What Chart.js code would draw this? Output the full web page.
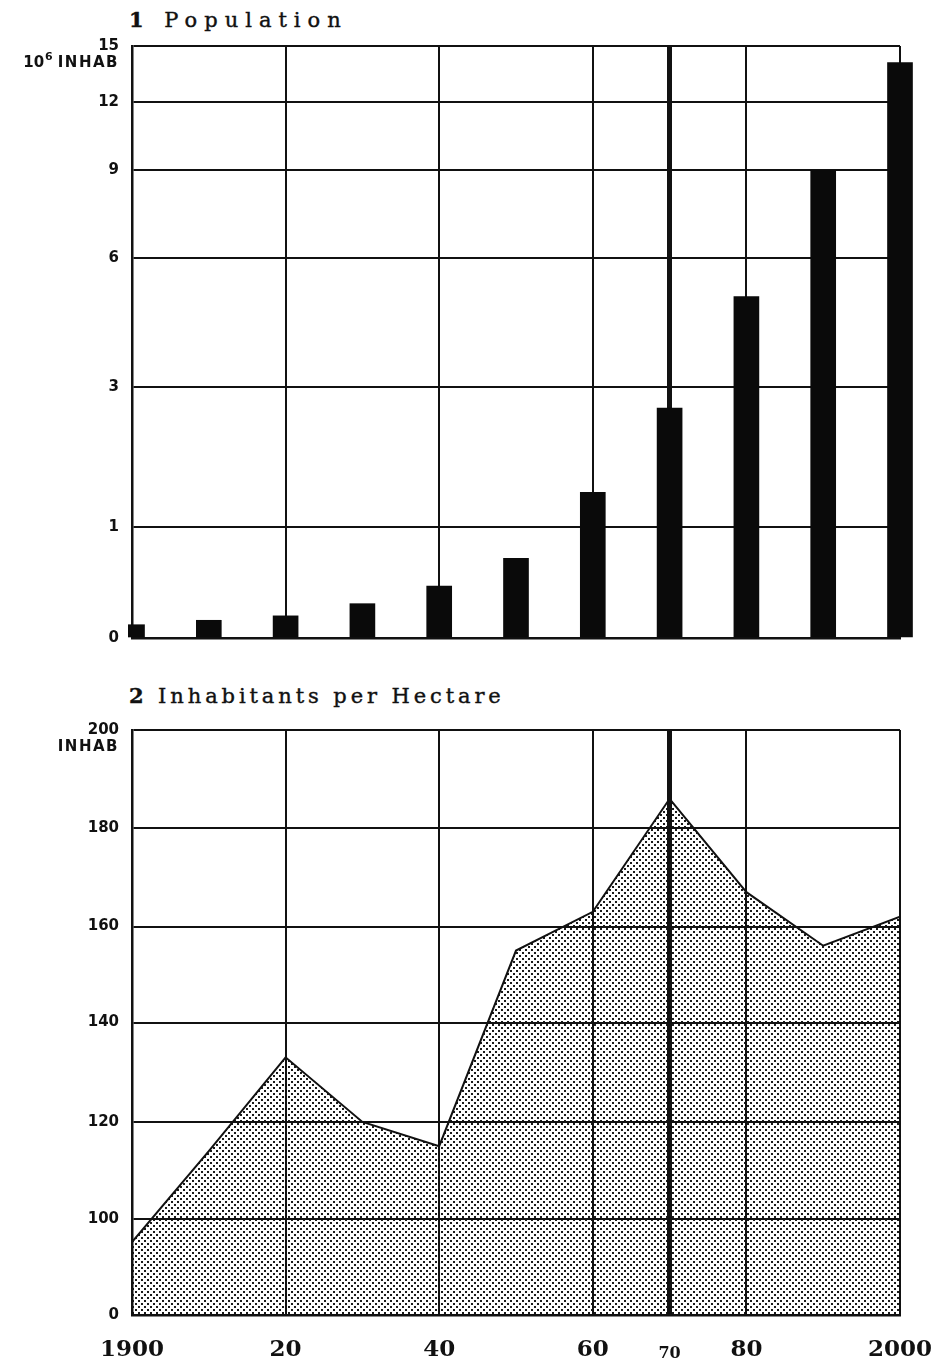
<!DOCTYPE html>
<html>
<head>
<meta charset="utf-8">
<title>Population and density</title>
<script src="https://cdn.jsdelivr.net/npm/chart.js@4.4.0/dist/chart.umd.min.js"></script>
<style>
  body { margin: 0; background: #fff; width: 942px; height: 1361px; position: relative; overflow: hidden; }
  .title { position: absolute; left: 129px; font-family: 'DejaVu Serif', serif; font-size: 21px; color: #111; white-space: nowrap; -webkit-text-stroke: 0.4px #111; }
  #t1 { top: 7px; letter-spacing: 7px; }
  #t2 { top: 683px; letter-spacing: 3.9px; }
  .box { position: absolute; left: 0; width: 942px; }
  #box1 { top: 0; height: 660px; }
  #box2 { top: 670px; height: 691px; }
</style>
</head>
<body>
<div class="title" id="t1"><b>1</b> Population</div>
<div class="title" id="t2"><b>2</b> Inhabitants per Hectare</div>
<div class="box" id="box1"><canvas id="popChart"></canvas></div>
<div class="box" id="box2"><canvas id="densChart"></canvas></div>
<script>
// population, millions of inhabitants, one bar per decade
var popYears = [1900, 1910, 1920, 1930, 1940, 1950, 1960, 1970, 1980, 1990, 2000];
var population = [0.12, 0.16, 0.2, 0.31, 0.47, 0.72, 1.5, 2.7, 5.1, 9.0, 14.1];
var popTicks = [0, 1, 3, 6, 9, 12, 15];

// inhabitants per hectare
var densYears = [1900, 1910, 1920, 1930, 1940, 1950, 1960, 1970, 1980, 1990, 2000];
var density = [76, 114, 133, 120, 115, 155, 163, 186, 167, 156, 162];
var densTicks = [0, 100, 120, 140, 160, 180, 200];

// vertical rules and year labels shared by both panels
var gridYears = [1900, 1920, 1940, 1960, 1970, 1980, 2000];
var yearLabels = ['1900', '20', '40', '60', '70', '80', '2000'];

// value axes are not linear: every tick sits at a fixed share of the axis height
var axisTicks = { yPop: popTicks, yDens: densTicks };
var axisStops = {
  yPop:  [0, 0.187, 0.424, 0.642, 0.79, 0.906, 1],
  yDens: [0, 0.164, 0.33, 0.5, 0.664, 0.832, 1]
};

class SteppedScale extends Chart.LinearScale {
  static id = 'stepped';

  buildTicks() {
    return axisTicks[this.id].map(function(v) { return { value: v }; });
  }

  getPixelForValue(value) {
    var t = axisTicks[this.id], f = axisStops[this.id];
    var d = 0;
    if (value <= t[0]) {
      d = f[0];
    } else {
      for (var i = 1; i < t.length; i++) {
        if (value <= t[i] || i === t.length - 1) {
          d = f[i - 1] + (value - t[i - 1]) / (t[i] - t[i - 1]) * (f[i] - f[i - 1]);
          break;
        }
      }
    }
    return this.getPixelForDecimal(d);
  }

  getValueForPixel(pixel) {
    var d = this.getDecimalForPixel(pixel);
    var t = axisTicks[this.id], f = axisStops[this.id];
    for (var i = 1; i < f.length; i++) {
      if (d <= f[i] || i === f.length - 1) {
        return t[i - 1] + (d - f[i - 1]) / (f[i] - f[i - 1]) * (t[i] - t[i - 1]);
      }
    }
  }
}
Chart.register(SteppedScale);

// unit caption under the top tick label
var unitLabel = {
  id: 'unitLabel',
  afterDraw: function(chart, args, opts) {
    var ctx = chart.ctx, area = chart.chartArea;
    var x = area.left - 13, y = area.top + 17;
    ctx.save();
    ctx.fillStyle = '#111';
    ctx.textAlign = 'right';
    ctx.textBaseline = 'middle';
    ctx.letterSpacing = '1.5px';
    ctx.font = 'bold 15px "DejaVu Sans"';
    ctx.fillText(opts.text, x, y);
    if (opts.power) {
      var w = ctx.measureText(opts.text).width + 5;
      ctx.letterSpacing = '0px';
      ctx.font = 'bold 11px "DejaVu Sans"';
      ctx.fillText(opts.power, x - w, y - 6);
      w += ctx.measureText(opts.power).width + 1;
      ctx.font = 'bold 15px "DejaVu Sans"';
      ctx.fillText(opts.base, x - w, y);
    }
    ctx.restore();
  }
};

function dotPattern() {
  var c = document.createElement('canvas');
  c.width = 6;
  c.height = 6;
  var g = c.getContext('2d');
  g.fillStyle = '#fff';
  g.fillRect(0, 0, 6, 6);
  g.fillStyle = '#1a1a1a';
  g.fillRect(0, 0, 2, 2);
  g.fillRect(3, 3, 2, 2);
  return g.createPattern(c, 'repeat');
}

var ink = '#111';
var tickFont = { family: '"DejaVu Sans"', weight: 'bold', size: 15 };

function yearRule(ctx) {
  return ctx.tick && ctx.tick.value === 1970 ? 5 : 2;
}

function yearTicks(axis) {
  axis.ticks = gridYears.map(function(v) { return { value: v }; });
}

new Chart(document.getElementById('popChart'), {
  type: 'bar',
  data: {
    datasets: [{
      data: popYears.map(function(y, i) { return { x: y, y: population[i] }; }),
      xAxisID: 'x',
      yAxisID: 'yPop',
      backgroundColor: '#0a0a0a',
      barThickness: 25,
      clip: { left: 4, top: 5, right: 15, bottom: 0 }
    }]
  },
  options: {
    responsive: true,
    maintainAspectRatio: false,
    animation: false,
    layout: { padding: { top: 46, right: 42, bottom: 19, left: 0 } },
    plugins: {
      legend: { display: false },
      tooltip: { enabled: false },
      unitLabel: { text: 'INHAB', power: '6', base: '10' }
    },
    scales: {
      x: {
        type: 'linear', min: 1900, max: 2000, offset: false,
        afterBuildTicks: yearTicks,
        grid: { offset: false, color: ink, lineWidth: yearRule, drawTicks: false },
        border: { color: ink, width: 2.5 },
        ticks: { display: false }
      },
      yPop: {
        type: 'stepped', position: 'left', min: 0, max: 15,
        afterFit: function(axis) { axis.width = 132; },
        grid: { color: ink, lineWidth: 2, drawTicks: false },
        border: { color: ink, width: 2.5 },
        ticks: { padding: 13, color: ink, font: tickFont, callback: function(v) { return String(v); } }
      }
    }
  },
  plugins: [unitLabel]
});

new Chart(document.getElementById('densChart'), {
  type: 'line',
  data: {
    datasets: [{
      data: densYears.map(function(y, i) { return { x: y, y: density[i] }; }),
      xAxisID: 'x',
      yAxisID: 'yDens',
      borderColor: ink,
      borderWidth: 2,
      backgroundColor: dotPattern(),
      fill: 'start',
      pointRadius: 0,
      tension: 0
    }]
  },
  options: {
    responsive: true,
    maintainAspectRatio: false,
    animation: false,
    layout: { padding: { top: 60, right: 42, bottom: 0, left: 0 } },
    plugins: {
      legend: { display: false },
      tooltip: { enabled: false },
      unitLabel: { text: 'INHAB' }
    },
    scales: {
      x: {
        type: 'linear', min: 1900, max: 2000,
        afterBuildTicks: yearTicks,
        afterFit: function(axis) { axis.height = 46; },
        // grid and frame go over the dotted fill; the invisible tick marks push the year labels down
        grid: { z: 1, color: ink, lineWidth: yearRule, drawTicks: true, tickLength: 35, tickColor: 'rgba(0,0,0,0)' },
        border: { z: 1, color: ink, width: 2.5 },
        ticks: {
          padding: 0, autoSkip: false, maxRotation: 0, color: ink, crossAlign: 'center',
          font: function(ctx) {
            var small = ctx.tick && ctx.tick.value === 1970;
            return { family: '"DejaVu Serif"', weight: 'bold', size: small ? 16 : 23 };
          },
          callback: function(v) { return yearLabels[gridYears.indexOf(v)]; }
        }
      },
      yDens: {
        type: 'stepped', position: 'left', min: 0, max: 200,
        afterFit: function(axis) { axis.width = 132; },
        grid: { z: 1, color: ink, lineWidth: 2, drawTicks: false },
        border: { z: 1, color: ink, width: 2.5 },
        ticks: { padding: 13, color: ink, font: tickFont, callback: function(v) { return String(v); } }
      }
    }
  },
  plugins: [unitLabel]
});
</script>
</body>
</html>
